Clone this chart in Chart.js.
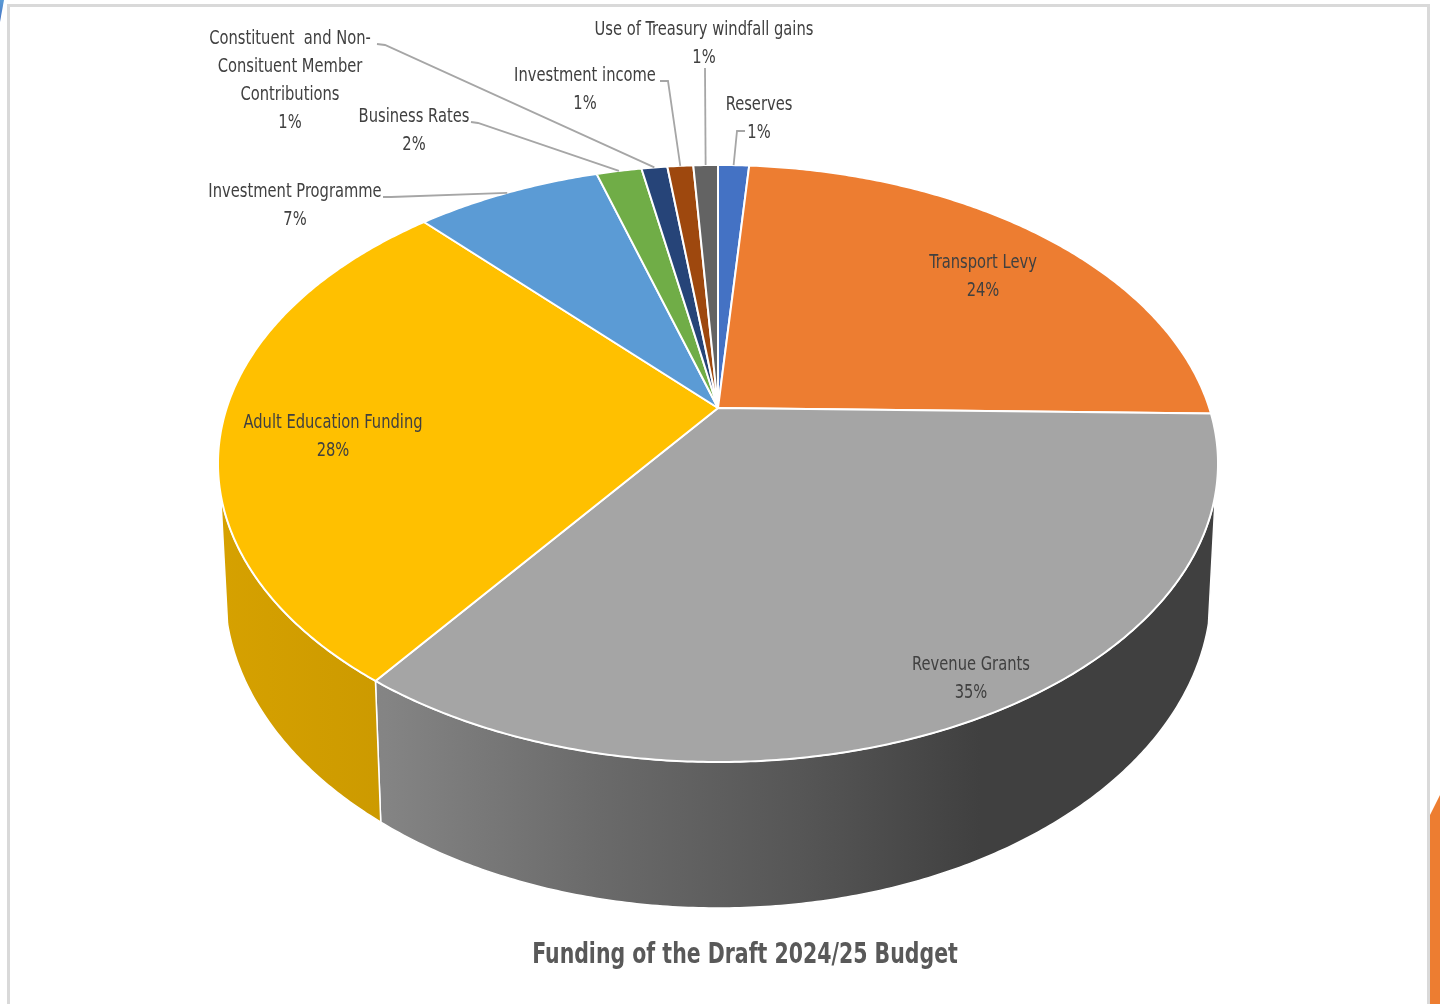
<!DOCTYPE html>
<html>
<head>
<meta charset="utf-8">
<script src="https://cdn.jsdelivr.net/npm/chart.js@4.4.1/dist/chart.umd.min.js"></script>
<style>
  html, body { margin: 0; padding: 0; background: #fff; overflow: hidden; }
  #wrap { position: relative; width: 1440px; height: 1004px; }
  #frame { position: absolute; left: 7px; top: 4px; width: 1423px; height: 1100px; border: 3px solid #d9d9d9; box-sizing: border-box; }
  #blueTab { position: absolute; left: 0; top: 0; width: 4px; height: 22px; background: linear-gradient(#5b9bd5, #4472c4); clip-path: polygon(0 0, 100% 0, 0 100%); }
  #orangeTab { position: absolute; left: 1430px; top: 795px; width: 10px; height: 209px; background: #ed7d31; clip-path: polygon(0 20px, 100% 0, 100% 100%, 0 100%); }
  #chart { position: absolute; left: 0; top: 0; }
</style>
</head>
<body>
<div id="wrap">
  <div id="frame"></div>
  <div id="blueTab"></div>
  <div id="orangeTab"></div>
  <canvas id="chart" width="1440" height="1004"></canvas>
</div>
<script>
// data (shares of total funding)
const CATEGORIES = [
  'Reserves',
  'Transport Levy',
  'Revenue Grants',
  'Adult Education Funding',
  'Investment Programme',
  'Business Rates',
  'Constituent  and Non-Consituent Member Contributions',
  'Investment income',
  'Use of Treasury windfall gains'
];
const SHARES = [1.2, 24.1, 34.8, 28.0, 7.2, 1.75, 1.0, 1.0, 0.95];
const TITLE = 'Funding of the Draft 2024/25 Budget';

// styles
const COLORS = ['#4472C4', '#ED7D31', '#A5A5A5', '#FFC000', '#5B9BD5', '#70AD47', '#264478', '#9E480E', '#636363'];
const FONT = '"Liberation Sans Narrow", "DejaVu Sans Condensed", sans-serif';
const TEXT_COLOR = '#404040';
const TEXT_SQUEEZE = 0.86;   // narrow the label glyphs like Calibri
const TITLE_SQUEEZE = 0.785;

// perspective camera for the 3D look
const VIEW = { cx: 718, cy: 408, f: 2140.6, dist: 4.357, tilt: Math.asin(0.5866), depth: 0.325, baseR: 1.03 };
// wall lighting: brightness across the x axis
const WALL_LIGHT = [[218, 0.84], [385, 0.80], [600, 0.64], [800, 0.52], [980, 0.39], [1222, 0.39]];

// label placement (x centre, baseline of first line), optional wrapped lines and leader start
const LABEL_LAYOUT = [
  { x: 759, y: 110, leader: [[745, 131], [737, 131]] },
  { x: 983, y: 268 },
  { x: 971, y: 670 },
  { x: 333, y: 428 },
  { x: 295, y: 197, leader: [[383, 197], [391, 197]] },
  { x: 414, y: 122, leader: [[471, 122], [478, 123]] },
  { x: 290, y: 44, lines: ['Constituent  and Non-', 'Consituent Member', 'Contributions'], leader: [[377, 44], [385, 45]] },
  { x: 585, y: 81, leader: [[660, 81], [668, 81]] },
  { x: 704, y: 35, leader: [[705, 68]] }
];
const LINE_GAP = 28;

function project(theta, r, z) {
  const s = Math.sin(VIEW.tilt), c = Math.cos(VIEW.tilt);
  const X = r * Math.sin(theta), Y = r * Math.cos(theta);
  const yc = Y * s + z * c;
  const zc = VIEW.dist + Y * c - z * s;
  return [VIEW.cx + VIEW.f * X / zc, VIEW.cy - VIEW.f * yc / zc];
}

function shade(hex, k) {
  const n = parseInt(hex.slice(1), 16);
  const r = Math.round(((n >> 16) & 255) * k);
  const g = Math.round(((n >> 8) & 255) * k);
  const b = Math.round((n & 255) * k);
  return `rgb(${r},${g},${b})`;
}

function rimPoints(t1, t2, r, z) {
  const pts = [];
  const n = Math.max(2, Math.ceil((t2 - t1) / (Math.PI / 360)) + 1);
  for (let i = 0; i < n; i++) {
    pts.push(project(t1 + (t2 - t1) * i / (n - 1), r, z));
  }
  return pts;
}

function squeezedText(ctx, text, x, y, sx) {
  ctx.save();
  ctx.translate(x, y);
  ctx.scale(sx, 1);
  ctx.fillText(text, 0, 0);
  ctx.restore();
}

const pie3d = {
  id: 'pie3d',
  beforeDatasetsDraw(chart) {
    const ctx = chart.ctx;
    const arcs = chart.getDatasetMeta(0).data;
    const c = Math.cos(VIEW.tilt);
    const tMin = Math.acos(-1 / (VIEW.dist * c));
    const tMax = 2 * Math.PI - tMin;
    const x0 = WALL_LIGHT[0][0], x1 = WALL_LIGHT[WALL_LIGHT.length - 1][0];

    ctx.save();
    ctx.lineJoin = 'round';

    // side walls (front facing part only)
    arcs.forEach((arc, i) => {
      const a = Math.max(arc.startAngle + Math.PI / 2, tMin);
      const b = Math.min(arc.endAngle + Math.PI / 2, tMax);
      if (b <= a) return;
      const top = rimPoints(a, b, 1, 0);
      const bottom = rimPoints(a, b, VIEW.baseR, -VIEW.depth).reverse();
      const grad = ctx.createLinearGradient(x0, 0, x1, 0);
      WALL_LIGHT.forEach(([x, k]) => grad.addColorStop((x - x0) / (x1 - x0), shade(COLORS[i], k)));
      ctx.beginPath();
      top.concat(bottom).forEach(([x, y], j) => j ? ctx.lineTo(x, y) : ctx.moveTo(x, y));
      ctx.closePath();
      ctx.fillStyle = grad;
      ctx.fill();
      ctx.strokeStyle = '#ffffff';
      ctx.lineWidth = 1.5;
      ctx.stroke();
    });

    // top face
    arcs.forEach((arc, i) => {
      const pts = rimPoints(arc.startAngle + Math.PI / 2, arc.endAngle + Math.PI / 2, 1, 0);
      ctx.beginPath();
      ctx.moveTo(VIEW.cx, VIEW.cy);
      pts.forEach(([x, y]) => ctx.lineTo(x, y));
      ctx.closePath();
      ctx.fillStyle = COLORS[i];
      ctx.fill();
      ctx.strokeStyle = '#ffffff';
      ctx.lineWidth = 2;
      ctx.stroke();
    });
    ctx.restore();
    return false;
  },
  afterDraw(chart) {
    const ctx = chart.ctx;
    const arcs = chart.getDatasetMeta(0).data;
    const values = chart.data.datasets[0].data;
    const total = values.reduce((s, v) => s + v, 0);
    ctx.save();
    ctx.font = '19px ' + FONT;
    ctx.fillStyle = TEXT_COLOR;
    ctx.textAlign = 'center';
    ctx.textBaseline = 'alphabetic';
    arcs.forEach((arc, i) => {
      const lay = LABEL_LAYOUT[i];
      const lines = (lay.lines || [chart.data.labels[i]]).concat([Math.round(values[i] / total * 100) + '%']);
      lines.forEach((t, j) => squeezedText(ctx, t, lay.x, lay.y + j * LINE_GAP, TEXT_SQUEEZE));
      if (lay.leader) {
        const mid = (arc.startAngle + arc.endAngle) / 2 + Math.PI / 2;
        const end = project(mid, 1, 0);
        ctx.beginPath();
        lay.leader.forEach(([x, y], j) => j ? ctx.lineTo(x, y) : ctx.moveTo(x, y));
        ctx.lineTo(end[0], end[1]);
        ctx.strokeStyle = '#a6a6a6';
        ctx.lineWidth = 1.8;
        ctx.stroke();
      }
    });

    // chart title under the pie
    ctx.font = 'bold 29px ' + FONT;
    ctx.fillStyle = '#595959';
    squeezedText(ctx, TITLE, 745, 963, TITLE_SQUEEZE);
    ctx.restore();
  }
};

new Chart(document.getElementById('chart'), {
  type: 'pie',
  data: {
    labels: CATEGORIES,
    datasets: [{
      data: SHARES,
      backgroundColor: COLORS,
      borderColor: '#ffffff',
      borderWidth: 2
    }]
  },
  options: {
    responsive: false,
    animation: false,
    devicePixelRatio: 1,
    layout: { padding: { left: 50, bottom: 90 } },
    plugins: {
      legend: { display: false },
      tooltip: { enabled: false },
      title: { display: false, text: TITLE }
    }
  },
  plugins: [pie3d]
});
</script>
</body>
</html>
